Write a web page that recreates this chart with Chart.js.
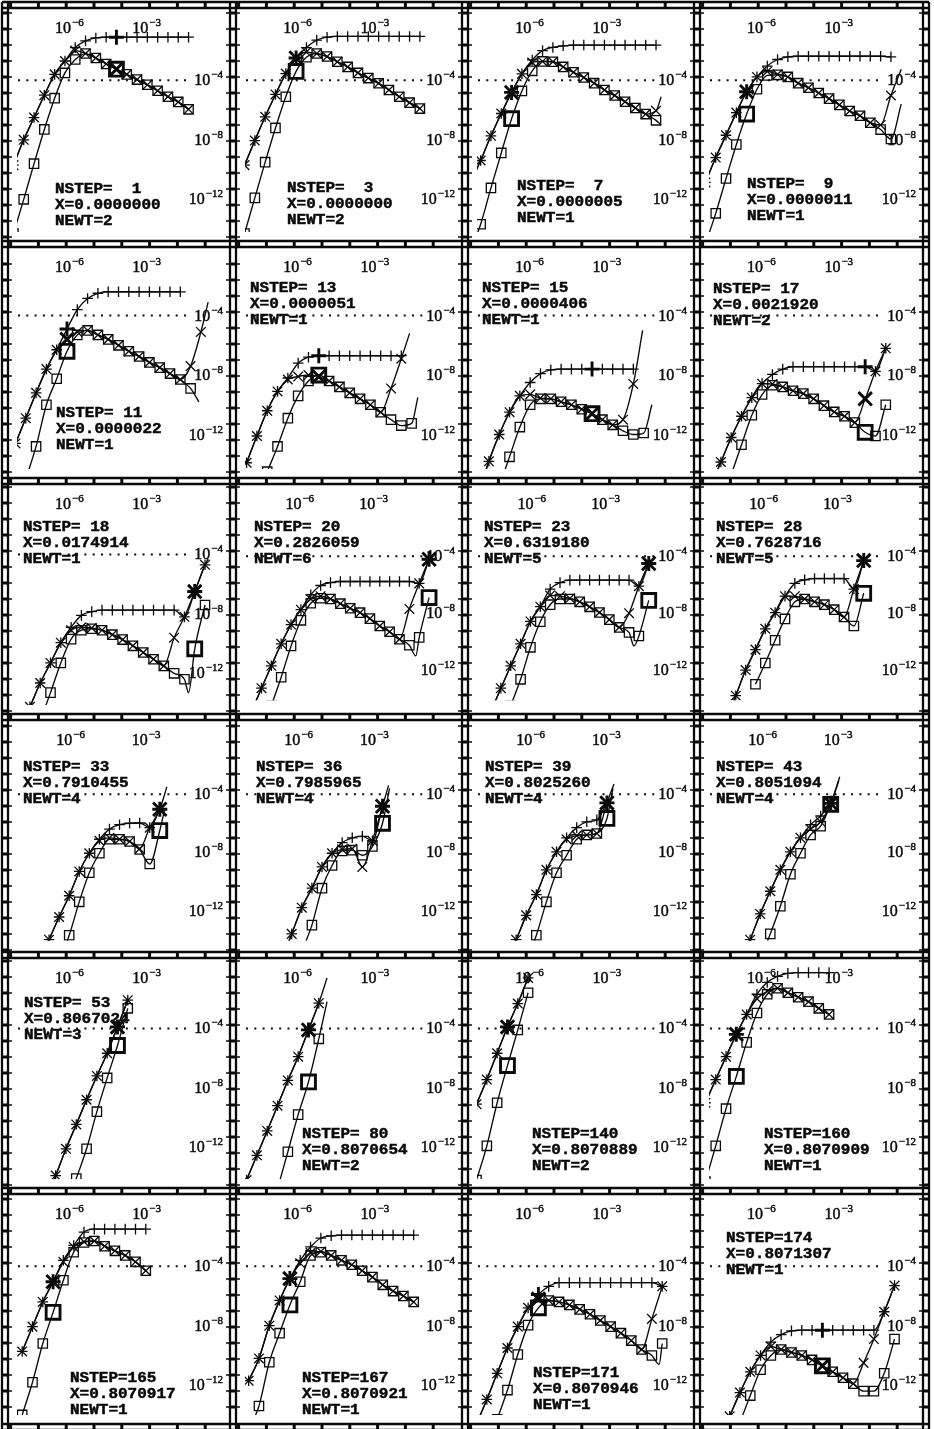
<!DOCTYPE html>
<html>
<head>
<meta charset="utf-8">
<title>NSTEP panels</title>
<script src="https://cdn.jsdelivr.net/npm/chart.js@4.4.1/dist/chart.umd.min.js"></script>
<style>
  html, body { margin: 0; padding: 0; background: #fff; }
  #sheet { position: relative; width: 934px; height: 1429px; overflow: hidden; }
  #sheet canvas { position: absolute; }
</style>
</head>
<body>
<div id="sheet"><canvas id="frame" width="934" height="1429" style="left:0;top:0"></canvas></div>
<script>
// run headers, one per panel (row by row)
const nstep = [1, 3, 7, 9, 11, 13, 15, 17, 18, 20, 23, 28, 33, 36, 39, 43, 53, 80, 140, 160, 165, 167, 171, 174];
const xPos = ['0.0000000', '0.0000000', '0.0000005', '0.0000011', '0.0000022', '0.0000051', '0.0000406', '0.0021920',
              '0.0174914', '0.2826059', '0.6319180', '0.7628716', '0.7910455', '0.7985965', '0.8025260', '0.8051094',
              '0.8067024', '0.8070654', '0.8070889', '0.8070909', '0.8070917', '0.8070921', '0.8070946', '0.8071307'];
const newt = [2, 2, 1, 1, 1, 1, 1, 2, 1, 6, 5, 5, 4, 4, 4, 4, 3, 2, 2, 1, 1, 1, 1, 1];

// step sizes: log10 h of sample i is H_FIRST + H_STEP * (i + gridOff[panel])
const H_FIRST = -8.2, H_STEP = 0.4;
const gridOff = [0, 0.3, -0.3, 0, 0.2, 0.5, 0.5, 0.5, 0.6, 0.55, 0.3, 0.6, 0.3, 0.75, 0, 0.2, 0.1, 0.5, 0.3, 0, 0.85, 0.7, 0.3, 0.35];
// sample drawn heavy in each panel
const boldStep = [10, 5, 4, 4, 5, 7, 11, 15, 17, 18, 17, 15, 14, 13, 13, 12, 10, 6, 3, 3, 3, 4, 6, 11];

// log10 of the three error estimates per sample ('+', 'x', square)
const plusLog = [
  [-9.7,-8.0,-6.5,-5.0,-3.6,-2.7,-1.8,-1.35,-1.15,-1.1,-1.1,-1.1,-1.1,-1.1,-1.1,-1.1,-1.1,-1.1],
  [-9.7,-8.05,-6.45,-4.95,-3.55,-2.5,-1.8,-1.3,-1.1,-1.05,-1.05,-1.05,-1.05,-1.05,-1.05,-1.05,-1.05,-1.05],
  [-10.9,-9.39,-7.73,-6.23,-4.81,-3.56,-2.63,-2.0,-1.79,-1.68,-1.63,-1.63,-1.63,-1.63,-1.63,-1.63,-1.63,-1.63,-1.63],
  [-10.86,-9.19,-7.69,-6.17,-4.77,-3.77,-3.04,-2.6,-2.42,-2.38,-2.38,-2.38,-2.38,-2.38,-2.38,-2.38,-2.38,-2.38,-2.42],
  [-12.6,-10.9,-9.2,-7.6,-6.3,-4.9,-3.6,-2.85,-2.5,-2.4,-2.4,-2.4,-2.4,-2.4,-2.4,-2.4,-2.4],
  [-13.9,-12.1,-10.4,-9.1,-8.2,-7.2,-6.8,-6.7,-6.7,-6.7,-6.7,-6.7,-6.7,-6.7,-6.7,-6.7],
  [-16.0,-13.8,-12.0,-10.5,-9.4,-8.5,-7.9,-7.65,-7.6,-7.6,-7.6,-7.6,-7.6,-7.6,-7.6,-7.6],
  [-15.5,-13.85,-12.2,-10.77,-9.52,-8.58,-7.96,-7.6,-7.44,-7.44,-7.44,-7.44,-7.44,-7.44,-7.44,-7.44,-7.75,-6.2],
  [-15.8,-14.25,-12.65,-11.3,-9.94,-8.9,-8.1,-7.85,-7.75,-7.75,-7.75,-7.75,-7.75,-7.75,-7.75,-7.75,-8.2,-6.5,-4.7],
  [-14.9,-13.27,-11.7,-10.15,-8.8,-7.75,-6.7,-6.05,-5.85,-5.77,-5.77,-5.77,-5.77,-5.77,-5.77,-5.77,-5.77,-5.9,-4.2],
  [-16.6,-14.9,-13.27,-11.7,-10.15,-8.58,-7.54,-6.3,-5.85,-5.67,-5.67,-5.67,-5.67,-5.67,-5.67,-5.67,-6.1,-4.5],
  [-17.3,-15.6,-13.8,-12.0,-10.56,-9.1,-7.96,-6.8,-5.9,-5.65,-5.56,-5.56,-5.56,-5.56,-6.3,-4.3],
  [null,null,-15.6,-14.0,-12.44,-10.98,-9.31,-8.06,-7.1,-6.4,-6.1,-6.0,-5.98,-6.3,-5.04],
  [null,null,null,-15.4,-13.6,-11.8,-10.46,-9.0,-8.06,-7.33,-7.0,-6.9,-7.2,-4.83],
  [null,null,null,-15.6,-14.0,-12.33,-10.9,-9.2,-7.96,-7.0,-6.3,-5.9,-5.77,-4.6],
  [null,null,null,-15.7,-14.0,-12.23,-10.67,-9.2,-7.96,-7.0,-6.1,-5.5,-4.63],
  [null,null,null,-15.6,-13.9,-12.1,-10.46,-8.8,-7.2,-5.67,-3.9,-2.1],
  [-14.2,-12.54,-10.9,-9.2,-7.5,-5.9,-4.1,-2.3],
  [-9.1,-7.44,-5.67,-3.9,-2.33,-0.6],
  [-9.0,-7.44,-5.9,-4.4,-3.06,-1.7,-0.9,-0.5,-0.3,-0.25,-0.25,-0.25,-0.25],
  [-9.73,-8.06,-6.4,-5.04,-3.6,-2.6,-1.7,-1.5,-1.5,-1.5,-1.5,-1.5,-1.5],
  [-11.7,-10.2,-8.0,-6.3,-4.83,-3.6,-2.7,-2.1,-1.95,-1.9,-1.9,-1.9,-1.9,-1.9,-1.9,-1.9,-1.9],
  [-14.6,-12.96,-11.2,-9.5,-8.06,-6.8,-5.9,-5.35,-5.1,-5.1,-5.1,-5.1,-5.1,-5.1,-5.1,-5.1,-5.1,-5.1,-5.35],
  [null,-15.7,-14.1,-12.5,-11.1,-10.0,-9.1,-8.6,-8.35,-8.3,-8.3,-8.3,-8.3,-8.3,-8.3,-8.3,-8.3,-7.06,-5.3]
];
const crossLog = [
  [-9.7,-8.0,-6.5,-5.0,-3.6,-2.7,-2.0,-2.2,-2.5,-2.9,-3.25,-3.6,-3.95,-4.3,-4.7,-5.1,-5.45,-5.95],
  [-9.7,-8.05,-6.45,-4.95,-3.55,-2.5,-2.1,-2.2,-2.4,-2.75,-3.1,-3.5,-3.85,-4.2,-4.65,-5.1,-5.5,-5.9],
  [-10.9,-9.39,-7.73,-6.23,-4.81,-3.56,-2.8,-2.73,-2.75,-3.1,-3.46,-3.81,-4.19,-4.65,-5.02,-5.44,-5.86,-6.27,-6.05],
  [-10.86,-9.19,-7.69,-6.17,-4.77,-3.77,-3.4,-3.6,-3.77,-4.19,-4.5,-4.85,-5.23,-5.65,-6.06,-6.38,-6.85,-7.0,-5.02],
  [-12.6,-10.9,-9.2,-7.6,-6.3,-5.6,-5.1,-5.0,-5.3,-5.6,-6.0,-6.4,-6.75,-7.15,-7.5,-7.9,-8.3,-7.4,-5.1],
  [-13.9,-12.1,-10.4,-9.1,-8.3,-8.1,-8.0,-8.1,-8.4,-8.8,-9.2,-9.6,-10.0,-10.5,-8.9,-6.9],
  [-16.0,-13.8,-12.0,-10.5,-9.4,-9.3,-9.55,-9.6,-9.8,-10.0,-10.3,-10.6,-11.0,-11.35,-11.0,-8.6],
  [-15.5,-13.85,-12.2,-10.77,-9.52,-8.58,-8.6,-8.8,-9.06,-9.25,-9.6,-10.06,-10.48,-10.77,-11.2,-9.6,-7.75,-6.2],
  [-15.8,-14.25,-12.65,-11.3,-9.94,-9.1,-8.9,-8.95,-9.1,-9.4,-9.73,-10.15,-10.6,-11.05,-11.5,-9.6,-8.2,-6.5,-4.7],
  [-14.9,-13.27,-11.7,-10.15,-8.8,-7.75,-7.0,-6.8,-7.0,-7.33,-7.65,-7.96,-8.38,-8.9,-9.3,-9.83,-7.7,-5.9,-4.2],
  [-16.6,-14.9,-13.27,-11.7,-10.15,-8.58,-7.54,-6.75,-6.8,-6.95,-7.2,-7.55,-7.95,-8.45,-9.0,-8.0,-6.1,-4.5],
  [-17.3,-15.6,-13.8,-12.0,-10.56,-9.1,-7.96,-6.8,-6.8,-7.0,-7.2,-7.4,-7.75,-8.27,-6.3,-4.3],
  [null,null,-15.6,-14.0,-12.44,-10.98,-9.31,-8.06,-7.2,-7.0,-7.1,-7.25,-7.75,-6.3,-5.04],
  [null,null,null,-15.4,-13.6,-11.8,-10.46,-9.0,-8.06,-7.8,-7.75,-9.0,-7.2,-4.83],
  [null,null,null,-15.6,-14.0,-12.33,-10.9,-9.2,-7.96,-7.1,-6.85,-6.8,-6.7,-4.6],
  [null,null,null,-15.7,-14.0,-12.23,-10.67,-9.2,-7.96,-7.0,-6.4,-5.9,-4.63],
  [null,null,null,-15.6,-13.9,-12.1,-10.46,-8.8,-7.2,-5.67,-3.9,-2.1],
  [-14.2,-12.54,-10.9,-9.2,-7.5,-5.9,-4.1,-2.3],
  [-9.1,-7.44,-5.67,-3.9,-2.33,-0.6],
  [-9.0,-7.44,-5.9,-4.4,-3.06,-2.0,-1.5,-1.3,-1.6,-1.9,-2.2,-2.65,-3.06],
  [-9.73,-8.06,-6.4,-5.04,-3.7,-2.7,-2.35,-2.3,-2.65,-2.96,-3.27,-3.7,-4.3],
  [-11.7,-10.2,-8.0,-6.3,-4.83,-3.8,-3.1,-3.0,-3.27,-3.6,-3.9,-4.3,-4.73,-5.25,-5.67,-6.0,-6.4],
  [-14.6,-12.96,-11.2,-9.5,-8.06,-6.8,-6.2,-6.3,-6.4,-6.6,-6.9,-7.23,-7.65,-8.06,-8.5,-9.0,-9.6,-7.54,-5.35],
  [null,-15.7,-14.1,-12.5,-11.1,-10.0,-9.4,-9.6,-9.8,-10.0,-10.3,-10.7,-11.1,-11.5,-11.9,-10.5,-8.9,-7.06,-5.3]
];
const squareLog = [
  [-14.3,-12.0,-9.6,-7.3,-5.2,-3.5,-2.6,-2.2,-2.5,-2.9,-3.25,-3.6,-3.95,-4.3,-4.7,-5.1,-5.45,-5.95],
  [-14.3,-11.9,-9.5,-7.2,-5.1,-3.4,-2.45,-2.2,-2.4,-2.75,-3.1,-3.5,-3.85,-4.2,-4.65,-5.1,-5.5,-5.9],
  [-15.5,-13.67,-11.23,-8.88,-6.58,-4.71,-3.36,-2.73,-2.75,-3.1,-3.46,-3.81,-4.19,-4.65,-5.02,-5.44,-5.86,-6.27,-6.69],
  [-15.0,-12.94,-10.6,-8.31,-6.27,-4.6,-3.67,-3.63,-3.77,-4.19,-4.5,-4.85,-5.23,-5.65,-6.06,-6.38,-6.85,-7.31,-7.94],
  [null,-15.0,-12.8,-10.0,-8.25,-6.4,-5.3,-5.0,-5.3,-5.6,-6.0,-6.4,-6.75,-7.15,-7.5,-7.9,-8.3,-8.9],
  [null,null,-14.5,-12.8,-10.9,-9.4,-8.4,-8.0,-8.4,-8.8,-9.2,-9.6,-10.0,-10.5,-11.0,-11.4,-11.25],
  [null,null,-15.5,-13.5,-11.5,-10.0,-9.6,-9.6,-9.8,-10.0,-10.3,-10.6,-11.0,-11.35,-11.75,-12.0,-11.9],
  [null,null,-14.7,-12.69,-10.7,-9.31,-8.69,-8.8,-9.06,-9.25,-9.6,-10.06,-10.48,-10.77,-11.2,-11.85,-12.1,-10.0],
  [null,null,-15.2,-13.3,-11.3,-9.7,-9.1,-9.0,-9.1,-9.4,-9.73,-10.15,-10.6,-11.05,-11.5,-12.0,-12.4,-10.35,-7.4],
  [null,null,-14.5,-12.5,-10.3,-8.5,-7.3,-6.95,-7.0,-7.33,-7.65,-7.96,-8.38,-8.9,-9.3,-9.83,-10.25,-9.7,-6.9],
  [null,null,null,-14.5,-12.65,-10.4,-8.6,-7.4,-7.0,-7.0,-7.2,-7.55,-7.95,-8.45,-9.0,-9.35,-9.6,-7.1],
  [null,null,null,null,-13.0,-11.5,-9.9,-8.4,-7.2,-7.0,-7.2,-7.4,-7.75,-8.27,-8.9,-6.6],
  [null,null,null,null,-15.5,-13.7,-11.4,-9.4,-8.06,-7.1,-7.1,-7.25,-7.8,-8.8,-6.5],
  [null,null,null,null,null,-14.8,-13.0,-10.46,-8.9,-7.9,-7.85,-8.2,-7.6,-6.0],
  [null,null,null,null,null,-15.6,-13.7,-11.4,-9.4,-8.2,-7.1,-6.8,-6.7,-5.67],
  [null,null,null,null,null,-15.4,-13.6,-11.7,-9.5,-8.06,-6.8,-6.2,-4.7],
  [null,null,null,null,null,-16.0,-14.1,-12.1,-9.6,-7.33,-5.15,-2.65],
  [null,null,null,-14.8,-12.3,-9.8,-7.6,-4.7],
  [-14.2,-11.9,-9.0,-6.5,-4.1,-1.6],
  [-14.3,-11.9,-9.4,-7.23,-4.94,-2.96,-1.7,-1.3,-1.6,-1.9,-2.2,-2.65,-3.06],
  [-14.0,-11.8,-9.2,-7.1,-4.94,-3.06,-2.4,-2.3,-2.65,-2.96,-3.27,-3.7,-4.3],
  [-15.0,-13.4,-10.46,-8.5,-6.6,-5.04,-3.27,-3.06,-3.27,-3.6,-3.9,-4.3,-4.73,-5.25,-5.67,-6.0,-6.4],
  [null,null,-14.3,-12.33,-9.94,-7.96,-6.8,-6.3,-6.4,-6.6,-6.9,-7.23,-7.65,-8.06,-8.5,-9.0,-9.6,-10.0,-9.2],
  [null,null,null,-14.5,-12.7,-10.96,-10.0,-9.6,-9.8,-10.0,-10.3,-10.7,-11.1,-11.5,-11.9,-12.4,-12.4,-11.2,-8.9]
];
// curve points between samples (no symbol): [sample position, log10 value]
const crossTail = [null, null, [[18.5,-5.1]], [[19.0,-3.25]], [[18.7,-3.1]], [[15.8,-5.2]], [[15.9,-5.0]], null,
  [[18.3,-4.3]], null, null, null, [[14.7,-3.5]], [[13.6,-3.4]], [[13.7,-3.3]], [[12.9,-2.8]],
  null, [[7.8,-0.6]], null, null, null, null, null, null];
const squareTail = [null, null, [[18.5,-7.0]], [[19.0,-5.6]], [[17.8,-9.8]], [[16.6,-9.5]], [[16.8,-10.0]], null,
  [[16.4,-13.3]], [[16.65,-11.0]], [[15.5,-10.3]], null, [[14.5,-5.0]], [[13.7,-3.6]], [[13.6,-3.6]], [[12.8,-3.1]],
  null, [[7.8,-2.2]], null, null, null, null, [[17.7,-10.6]], null];

// sheet layout
const COL_LINES = [5, 233, 465, 697, 926];
const ROW_LINES = [5, 244, 481, 717, 955, 1191, 1427];
const ROW_1E4 = [77, 312, 551, 790, 1025, 1263];   // page y of 1e-4 in each row
const X_1E6 = 61.2;                                // 1e-6 measured from the column line
const PX_DEC_X = 27.8, PX_DEC_Y = 16;
// where the NSTEP block starts (page x, centre of first line)
const textAt = [
  [55, 188], [287, 187], [517, 185], [747, 183],
  [56, 412], [250, 287], [482, 287], [713, 288],
  [23, 526], [254, 526], [484, 526], [716, 526],
  [23, 766], [256, 766], [485, 766], [716, 766],
  [24, 1002], [302, 1133], [532, 1133], [764, 1133],
  [70, 1377], [302, 1377], [533, 1372], [726, 1237]
];
const INK = '#0a0a0a';
const sheet = document.getElementById('sheet');

function line(g, x1, y1, x2, y2) {
  g.beginPath(); g.moveTo(x1, y1); g.lineTo(x2, y2); g.stroke();
}

// ruled borders: double lines with rungs at every decade, plus inward ticks
function drawFrame() {
  const g = document.getElementById('frame').getContext('2d');
  g.fillStyle = '#fff';
  g.fillRect(0, 0, 934, 1429);
  g.strokeStyle = INK;
  const L = COL_LINES[0], R = COL_LINES[4], T = ROW_LINES[0], B = ROW_LINES[6];
  ROW_LINES.forEach(Y => {
    g.lineWidth = 2.3;
    line(g, L - 3, Y - 3, R + 3, Y - 3);
    line(g, L - 3, Y + 3, R + 3, Y + 3);
    g.lineWidth = 3;
    for (let c = 0; c < 4; c++) {
      for (let d = -9; d <= 2; d++) {
        const xx = COL_LINES[c] + X_1E6 + (d + 6) * PX_DEC_X;
        if (xx > COL_LINES[c] + 5 && xx < COL_LINES[c + 1] - 5) line(g, xx, Y - 3, xx, Y + 3);
      }
    }
  });
  COL_LINES.forEach(X => {
    g.lineWidth = 2.3;
    line(g, X - 3, T - 3, X - 3, B + 3);
    line(g, X + 3, T - 3, X + 3, B + 3);
    for (let r = 0; r < 6; r++) {
      for (let k = -6; k <= 12; k++) {
        const yy = ROW_1E4[r] + k * PX_DEC_Y;
        if (yy < ROW_LINES[r] + 5 || yy > ROW_LINES[r + 1] - 5) continue;
        g.lineWidth = 3;
        line(g, X - 3, yy, X + 3, yy);
        g.lineWidth = 1.5;
        if (X < R) line(g, X + 3, yy, X + 7, yy);
        if (X > L) line(g, X - 7, yy, X - 3, yy);
      }
    }
  });
}

// "10" with a raised exponent; 'tick' puts the end of "10" on x, 'right' ends the label at x
function tenTo(ctx, exp, x, y, mode) {
  ctx.font = '16px "Liberation Serif"';
  const wBase = ctx.measureText('10').width;
  const sup = '\u2212' + String(-exp);
  ctx.font = '11px "Liberation Serif"';
  const wSup = ctx.measureText(sup).width;
  const x0 = mode === 'tick' ? x - wBase + 1 : x - wBase - wSup - 1;
  ctx.lineWidth = 0.45;
  ctx.font = '16px "Liberation Serif"';
  ctx.fillText('10', x0, y);
  ctx.strokeText('10', x0, y);
  ctx.font = '11px "Liberation Serif"';
  ctx.fillText(sup, x0 + wBase + 1, y - 7);
  ctx.strokeText(sup, x0 + wBase + 1, y - 7);
  return x0;
}

function hAt(pos, p) {
  return Math.pow(10, H_FIRST + H_STEP * (pos + gridOff[p]));
}

function series(vals, tail, p) {
  const pts = [];
  vals.forEach((v, i) => {
    if (v !== null) pts.push({ x: hAt(i, p), y: Math.pow(10, v), bold: i === boldStep[p] });
  });
  (tail || []).forEach(([m, v]) => pts.push({ x: hAt(m, p), y: Math.pow(10, v), bare: true }));
  return pts.sort((a, b) => a.x - b.x);
}

function markerSet(data, style, r, rBold) {
  return {
    data,
    showLine: true,
    borderColor: INK,
    borderWidth: 1.35,
    cubicInterpolationMode: 'monotone',
    pointStyle: style,
    pointBorderColor: INK,
    pointBackgroundColor: 'rgba(0,0,0,0)',
    pointRadius: c => (c.raw && c.raw.bare) ? 0 : (c.raw && c.raw.bold ? rBold : r),
    pointBorderWidth: c => (c.raw && c.raw.bold) ? 2.9 : 1.3
  };
}

drawFrame();

for (let p = 0; p < 24; p++) {
  const c = p % 4, r = Math.floor(p / 4);
  const left = COL_LINES[c] + 4, top = ROW_LINES[r] + 4;
  const w = COL_LINES[c + 1] - COL_LINES[c] - 8;
  const h = ROW_LINES[r + 1] - ROW_LINES[r] - 8;
  const cv = document.createElement('canvas');
  cv.width = w; cv.height = h;
  cv.style.left = left + 'px'; cv.style.top = top + 'px';
  cv.style.width = w + 'px'; cv.style.height = h + 'px';
  sheet.appendChild(cv);

  const xLo = -6 - (X_1E6 - 4) / PX_DEC_X;
  const xHi = xLo + w / PX_DEC_X;
  const yHi = -4 + (ROW_1E4[r] - top) / PX_DEC_Y;
  const yLo = yHi - h / PX_DEC_Y;

  const labels = {
    id: 'panelLabels',
    beforeDatasetsDraw(chart) {
      const { ctx, scales } = chart;
      ctx.save();
      ctx.fillStyle = INK;
      ctx.strokeStyle = INK;
      ctx.textBaseline = 'alphabetic';
      [-6, -3].forEach(e => tenTo(ctx, e, scales.x.getPixelForValue(Math.pow(10, e)), ROW_LINES[r] + 28 - top, 'tick'));
      const rightEdge = COL_LINES[c + 1] - 10 - left;
      let lab4 = rightEdge;
      [-4, -8, -12].forEach(e => {
        const lx = tenTo(ctx, e, rightEdge, scales.y.getPixelForValue(Math.pow(10, e)) + 5, 'right');
        if (e === -4) lab4 = lx;
      });
      // dotted reference line at 1e-4
      const y4 = scales.y.getPixelForValue(1e-4);
      ctx.lineWidth = 2;
      ctx.setLineDash([2, 6.3]);
      line(ctx, COL_LINES[c] + 13 - left, y4, lab4 - 3, y4);
      ctx.setLineDash([]);
      // run header, typewriter style
      const tx = textAt[p][0] - left, ty = textAt[p][1] - top;
      ctx.font = 'bold 16px "Liberation Mono"';
      ctx.lineWidth = 0.5;
      ['NSTEP=' + String(nstep[p]).padStart(3, ' '), 'X=' + xPos[p], 'NEWT=' + newt[p]]
        .forEach((s, k) => {
          ctx.save();
          ctx.translate(tx, ty + k * 16);
          ctx.scale(1, 0.88);
          ctx.fillText(s, 0, 6);
          ctx.strokeText(s, 0, 6);
          ctx.restore();
        });
      ctx.restore();
    }
  };

  new Chart(cv, {
    type: 'scatter',
    data: {
      datasets: [
        markerSet(series(squareLog[p], squareTail[p], p), 'rect', 6.6, 9.8),
        markerSet(series(crossLog[p], crossTail[p], p), 'crossRot', 6.8, 9.5),
        markerSet(series(plusLog[p], null, p), 'cross', 5.3, 7.5)
      ]
    },
    options: {
      responsive: false,
      animation: false,
      devicePixelRatio: 1,
      events: [],
      layout: { padding: 0 },
      plugins: { legend: { display: false }, tooltip: { enabled: false } },
      scales: {
        x: { type: 'logarithmic', display: false, bounds: 'data', min: Math.pow(10, xLo), max: Math.pow(10, xHi) },
        y: { type: 'logarithmic', display: false, bounds: 'data', min: Math.pow(10, yLo), max: Math.pow(10, yHi) }
      }
    },
    plugins: [labels]
  });
}
</script>
</body>
</html>
